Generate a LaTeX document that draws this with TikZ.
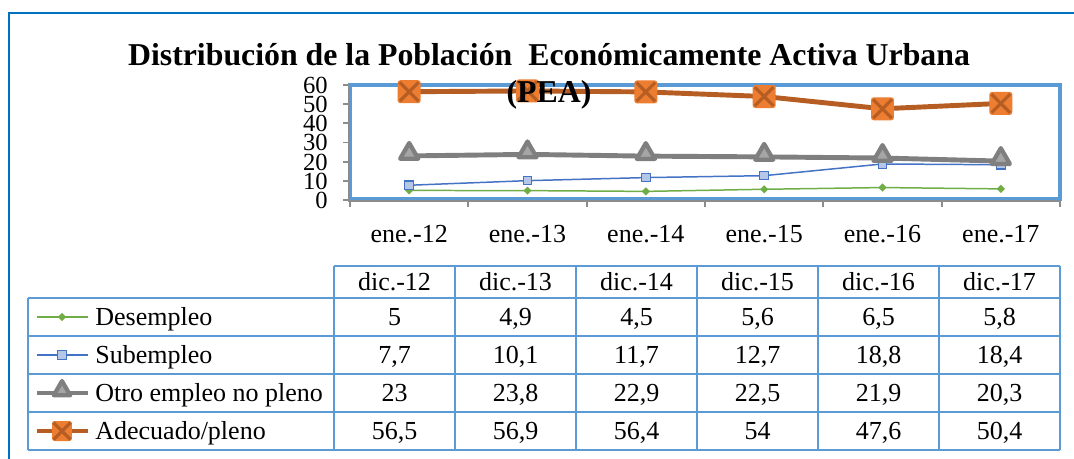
\documentclass[tikz,border=0pt]{standalone}
\usepackage{fontspec}
\setmainfont{Liberation Serif}
\usetikzlibrary{shapes.geometric, shapes.misc, positioning, calc}
\definecolor{framebl}{HTML}{0070C0}
\definecolor{gridbl}{HTML}{5B9BD5}
\definecolor{pleno}{HTML}{ED7D31}
\definecolor{plenodk}{HTML}{B55D22}
\definecolor{otro}{HTML}{7F7F7F}
\definecolor{otrolt}{HTML}{A5A5A5}
\definecolor{sub}{HTML}{4472C4}
\definecolor{sublt}{HTML}{B4C7E7}
\definecolor{desem}{HTML}{70AD47}

\tikzset{
  lbl/.style={font=\fontsize{14.8}{17}\selectfont, inner sep=0pt, text height=10.1pt, text depth=0pt},
  axlbl/.style={font=\fontsize{14}{16}\selectfont, inner sep=0pt, text height=9.5pt, text depth=0pt, anchor=east},
  ttl/.style={font=\fontsize{18.1}{22}\selectfont\bfseries, inner sep=0pt, text height=12.2pt, text depth=0pt},
  tabline/.style={gridbl, line width=0.85pt},
  ldes/.style={desem, line width=0.85pt},
  lsub/.style={sub, line width=0.85pt},
  lotro/.style={otro, line width=2.8pt},
  lple/.style={plenodk, line width=2.8pt},
  mdes/.style={diamond, fill=desem, minimum size=0.17cm, inner sep=0pt},
  msub/.style={rectangle, draw=sub, fill=sublt, line width=0.6pt, minimum size=0.17cm, inner sep=0pt},
  motro/.style={regular polygon, regular polygon sides=3, draw=otro, fill=otrolt, line width=2.4pt, line join=round, minimum size=0.42cm, inner sep=0pt, yshift=1.4pt},
  mple/.style={rectangle, rounded corners=1.5pt, fill=pleno, minimum size=0.46cm, inner sep=0pt},
  mplex/.style={cross out, draw=plenodk, line width=1.8pt, minimum size=0.31cm, inner sep=0pt},
}

\begin{document}
\begin{tikzpicture}[x=0.02cm, y=-0.02cm]
  \useasboundingbox (0,0) rectangle (1074,458);

  % marco exterior
  \draw[framebl, line width=1.2pt] (9,470) -- (9,13) -- (1090,13);

  % area del grafico y ejes
  \draw[gridbl, line width=2pt] (350,85) rectangle (1060,199);
  \draw[otro!90, line width=1.1pt] (349,85) -- (349,201) -- (1060,201);
  \foreach \t in {0,10,...,60} {
    \draw[otro!90, line width=1.1pt] (343,{200-\t*115/60}) -- (349,{200-\t*115/60});
    \node[axlbl] (y\t) at (328,{200-\t*115/60}) {\t};
  }
  \foreach \k in {0,...,6}
    \draw[otro!90, line width=1.1pt] ({350+118.33*\k},201) -- ++(0,6);
  \foreach \m [count=\i] in {12,...,17}
    \node[lbl] (ene\m) at ({350+118.33*(\i-0.5)},234) {ene.-\m};

  % tabla
  \draw[tabline] (334,266) -- (1060,266);
  \foreach \y in {298,336,374,412,450}
    \draw[tabline] (28,\y) -- (1060,\y);
  \draw[tabline] (28,298) -- (28,450);
  \foreach \x in {334,455,...,1060}
    \draw[tabline] (\x,266) -- (\x,450);
  \foreach \m [count=\i] in {12,...,17}
    \node[lbl] (dic\m) at ({334+121*(\i-0.5)},282) {dic.-\m};

  % Desempleo
  \foreach \v/\t [count=\i] in {5/5, 4.9/{4,9}, 4.5/{4,5}, 5.6/{5,6}, 6.5/{6,5}, 5.8/{5,8}} {
    \coordinate (pd\i) at ({350+118.33*(\i-0.5)},{200-\v*115/60});
    \node[lbl] (tdes\i) at ({334+121*(\i-0.5)},317) {\t};
  }
  \draw[ldes] (pd1) \foreach \i in {2,...,6} {-- (pd\i)};
  \foreach \i in {1,...,6} \node[mdes] (mdes\i) at (pd\i) {};

  % Subempleo
  \foreach \v/\t [count=\i] in {7.7/{7,7}, 10.1/{10,1}, 11.7/{11,7}, 12.7/{12,7}, 18.8/{18,8}, 18.4/{18,4}} {
    \coordinate (ps\i) at ({350+118.33*(\i-0.5)},{200-\v*115/60});
    \node[lbl] (tsub\i) at ({334+121*(\i-0.5)},355) {\t};
  }
  \draw[lsub] (ps1) \foreach \i in {2,...,6} {-- (ps\i)};
  \foreach \i in {1,...,6} \node[msub] (msub\i) at (ps\i) {};

  % Otro empleo no pleno
  \foreach \v/\t [count=\i] in {23/23, 23.8/{23,8}, 22.9/{22,9}, 22.5/{22,5}, 21.9/{21,9}, 20.3/{20,3}} {
    \coordinate (po\i) at ({350+118.33*(\i-0.5)},{200-\v*115/60});
    \node[lbl] (totro\i) at ({334+121*(\i-0.5)},393) {\t};
  }
  \draw[lotro] (po1) \foreach \i in {2,...,6} {-- (po\i)};
  \foreach \i in {1,...,6} \node[motro] (motro\i) at (po\i) {};

  % Adecuado/pleno
  \foreach \v/\t [count=\i] in {56.5/{56,5}, 56.9/{56,9}, 56.4/{56,4}, 54/54, 47.6/{47,6}, 50.4/{50,4}} {
    \coordinate (pp\i) at ({350+118.33*(\i-0.5)},{200-\v*115/60});
    \node[lbl] (tple\i) at ({334+121*(\i-0.5)},431) {\t};
  }
  \draw[lple] (pp1) \foreach \i in {2,...,6} {-- (pp\i)};
  \foreach \i in {1,...,6} {
    \node[mple] (mple\i) at (pp\i) {};
    \node[mplex] at (mple\i) {};
  }

  % titulo
  \node[ttl] (ttl1) at (549,54.5) {Distribución de la Población~ Económicamente Activa Urbana};
  \node[ttl, below=0.31cm of ttl1] (ttl2) {(PEA)};

  % leyenda
  \draw[ldes] (37,317) -- (88,317);
  \node[mdes] (kdes) at (62,317) {};
  \node[lbl, anchor=west] (ldes) at (95,317) {Desempleo};
  \draw[lsub] (37,355) -- (88,355);
  \node[msub] (ksub) at (62,355) {};
  \node[lbl, anchor=west] (lsub) at (95,355) {Subempleo};
  \draw[lotro] (37,393) -- (88,393);
  \node[motro, minimum size=0.38cm] (kotro) at (62,393) {};
  \node[lbl, anchor=west] (lotro) at (95,393) {Otro empleo no pleno};
  \draw[lple] (37,431) -- (88,431);
  \node[mple, minimum size=0.4cm] (kple) at (62,431) {};
  \node[mplex, minimum size=0.28cm] at (kple) {};
  \node[lbl, anchor=west] (lple) at (95,431) {Adecuado/pleno};
\end{tikzpicture}
\end{document}
